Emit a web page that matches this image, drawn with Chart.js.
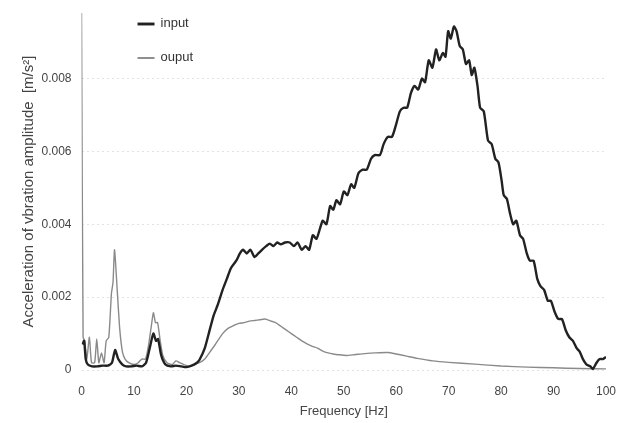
<!DOCTYPE html>
<html>
<head>
<meta charset="utf-8">
<script src="https://cdn.jsdelivr.net/npm/chart.js@4.4.1/dist/chart.umd.min.js"></script>
<style>
  html, body { margin: 0; padding: 0; background: #fff; }
  #wrap { width: 625px; height: 423px; position: relative; }
</style>
</head>
<body>
<div id="wrap"><canvas id="chart"></canvas></div>
<script>
// ── Data ───────────────────────────────────────────────────────────────────
const inputFreq = [0.2, 0.5, 0.8, 1.2, 2, 3, 4, 5, 5.8, 6.4, 7, 7.8, 8.5, 9.5, 10.5, 11.5, 12.3, 13, 13.7, 14.2,
  14.6, 15.2, 16, 17, 18, 19, 20, 21, 22, 22.5, 23.5, 24.4, 25.2, 26, 26.9, 27.7, 28.5, 29.5, 30.2, 30.8,
  31.5, 32.2, 33, 33.7, 34.4, 35.2, 35.9, 36.6, 37.3, 38, 38.8, 39.7, 40.5, 41.2, 42, 42.7, 43.4, 44.1, 44.8, 45.5,
  46, 46.7, 47.4, 48, 48.6, 49.3, 50, 50.7, 51.4, 52, 52.8, 53.6, 54.4, 55.2, 55.9, 56.9, 57.6, 58.4, 59.2, 59.9,
  60.7, 61.4, 62.1, 62.8, 63.5, 64.2, 64.9, 65.5, 66.2, 66.9, 67.6, 68.2, 68.9, 69.4, 69.9, 70.4, 71, 71.5, 72.1, 72.7,
  73.3, 73.9, 74.4, 74.9, 75.5, 76, 76.7, 77.5, 78.2, 78.9, 79.5, 80.1, 80.5, 81.1, 81.7, 82.3, 82.9, 83.6, 84.2, 84.9,
  85.5, 86.2, 86.9, 87.5, 88.2, 88.9, 89.5, 90.2, 90.9, 91.6, 92.3, 93, 93.7, 94.4, 95, 95.6, 96.3, 97, 97.5, 98.2,
  98.8, 99.4, 100];
const inputAccel = [0.0007, 0.0008, 0.0003, 0.00015, 0.0001, 0.0001, 0.00012, 0.00012, 0.0002, 0.00055, 0.0003, 0.00015, 0.0001, 0.0001, 0.00012, 0.0001, 0.0002, 0.0006, 0.001, 0.0008,
  0.00085, 0.0004, 0.00015, 0.0001, 0.00012, 0.0001, 0.00008, 0.00012, 0.0002, 0.00028, 0.0006, 0.00108, 0.0015, 0.0018, 0.0022, 0.0025, 0.0028, 0.003, 0.0032, 0.0033,
  0.0032, 0.0033, 0.0031, 0.0032, 0.0033, 0.0034, 0.00347, 0.0034, 0.0035, 0.00345, 0.0035, 0.0035, 0.0034, 0.0035, 0.0033, 0.0034, 0.0033, 0.0037, 0.0036, 0.0039,
  0.0041, 0.004, 0.0045, 0.0044, 0.00466, 0.00455, 0.0049, 0.0048, 0.0051, 0.005, 0.0054, 0.0055, 0.0055, 0.0058, 0.0059, 0.0059, 0.0062, 0.0064, 0.0064, 0.0067,
  0.0071, 0.0072, 0.0072, 0.0076, 0.0078, 0.0077, 0.008, 0.0079, 0.0085, 0.0083, 0.0088, 0.0085, 0.0087, 0.0086, 0.0093, 0.0091, 0.00943, 0.0093, 0.0089, 0.0088,
  0.0084, 0.0085, 0.0081, 0.0083, 0.0078, 0.0072, 0.0071, 0.0063, 0.0062, 0.0058, 0.0057, 0.0052, 0.0048, 0.0047, 0.0043, 0.004, 0.0041, 0.0037, 0.0036, 0.0032,
  0.003, 0.003, 0.0025, 0.0023, 0.0022, 0.0019, 0.0019, 0.0016, 0.0014, 0.0014, 0.0011, 0.0009, 0.0008, 0.0006, 0.0005, 0.0003, 0.00015, 0.0001, 0.00003, 0.0002,
  0.0003, 0.0003, 0.00036];

const outputFreq = [0, 0.3, 0.6, 1, 1.5, 1.9, 2.5, 2.9, 3.3, 3.8, 4.3, 4.7, 5.2, 5.7, 6, 6.3, 6.8, 7.3, 7.8, 8.3,
  9, 10, 10.8, 11.5, 12.2, 12.8, 13.3, 13.7, 14.1, 14.5, 15, 15.5, 16.3, 17.3, 18, 18.7, 19.5, 20.5, 21.5, 22.5,
  23.5, 24.5, 25.5, 26.9, 28, 29, 30, 31, 32, 33, 34, 35, 36, 37, 38, 39, 40, 41, 42, 43,
  44, 45, 46, 47, 48, 49, 50.5, 52, 54, 56, 58.4, 60, 62, 64, 67, 70, 75, 80, 85, 90, 95, 100];
const outputAccel = [0.0098, 0.0009, 0.0008, 0.0003, 0.0009, 0.0002, 0.0002, 0.00085, 0.0002, 0.00047, 0.0002, 0.0008, 0.0009, 0.0021, 0.0024, 0.0033, 0.0022, 0.0011, 0.0005, 0.0003,
  0.0002, 0.00015, 0.0002, 0.0003, 0.0003, 0.0007, 0.0012, 0.00157, 0.0013, 0.0013, 0.0008, 0.0004, 0.0002, 0.00015, 0.00025, 0.0002, 0.00015, 0.0001, 0.00015, 0.0002,
  0.0003, 0.0005, 0.0007, 0.001, 0.00115, 0.00122, 0.00128, 0.0013, 0.00134, 0.00136, 0.00138, 0.0014, 0.00135, 0.0013, 0.0012, 0.0011, 0.001, 0.0009, 0.0008, 0.00072,
  0.00065, 0.0006, 0.00052, 0.00047, 0.00044, 0.00042, 0.0004, 0.00042, 0.00045, 0.00047, 0.00048, 0.00044, 0.00038, 0.00032, 0.00025, 0.00021, 0.00016, 0.00011, 0.00008, 0.00006, 0.00004, 0.00003];

const xTicks = [0, 10, 20, 30, 40, 50, 60, 70, 80, 90, 100];
const yTicks = [0, 0.002, 0.004, 0.006, 0.008];

const FONT = 'Liberation Sans, Arial, sans-serif';
const toPoints = (xs, ys) => xs.map((x, i) => ({ x, y: ys[i] }));

// Legend drawn inside the plot, top-left (two short swatches, stacked)
const inlineLegend = {
  id: 'inlineLegend',
  afterDraw(chart) {
    const { ctx, chartArea } = chart;
    const x0 = chartArea.left + 56;
    const rows = [
      { label: 'input', ds: chart.data.datasets[0], y: 24 },
      { label: 'ouput', ds: chart.data.datasets[1], y: 58 },
    ];
    ctx.save();
    ctx.font = '13px ' + FONT;
    ctx.textBaseline = 'middle';
    rows.forEach(r => {
      ctx.strokeStyle = r.ds.borderColor;
      ctx.lineWidth = r.ds.borderWidth + 0.5;
      ctx.beginPath();
      ctx.moveTo(x0, r.y);
      ctx.lineTo(x0 + 17, r.y);
      ctx.stroke();
      ctx.fillStyle = '#333';
      ctx.fillText(r.label, x0 + 23, r.y - 1);
    });
    ctx.restore();
  }
};

new Chart(document.getElementById('chart'), {
  type: 'line',
  data: {
    datasets: [
      {
        label: 'input',
        data: toPoints(inputFreq, inputAccel),
        borderColor: '#222',
        borderWidth: 2.4,
        pointRadius: 0,
        tension: 0.2,
      },
      {
        label: 'ouput',
        data: toPoints(outputFreq, outputAccel),
        borderColor: '#8a8a8a',
        borderWidth: 1.4,
        pointRadius: 0,
        tension: 0.2,
      },
    ]
  },
  options: {
    responsive: true,
    maintainAspectRatio: false,
    animation: false,
    layout: { padding: { top: 13, right: 3, left: 20, bottom: 4 } },
    plugins: { legend: { display: false }, tooltip: { enabled: false } },
    scales: {
      x: {
        type: 'linear',
        min: 0,
        max: 100,
        afterBuildTicks: s => { s.ticks = xTicks.map(v => ({ value: v })); },
        afterFit: s => { s.paddingRight = 19; },
        grid: { display: false, drawTicks: false },
        border: { display: false },
        ticks: { color: '#444', font: { family: FONT, size: 12 }, padding: 14 },
        title: { display: true, text: 'Frequency [Hz]', color: '#444', font: { family: FONT, size: 13 }, padding: { top: -9, bottom: 0 } },
      },
      y: {
        min: 0,
        max: 0.0098,
        afterBuildTicks: s => { s.ticks = yTicks.map(v => ({ value: v })); },
        afterFit: s => { s.paddingTop = 0; },
        grid: { color: '#e2e2e2', drawTicks: false, lineWidth: 1 },
        border: { display: false, dash: [2, 3] },
        ticks: {
          color: '#444', font: { family: FONT, size: 12 }, padding: 10,
          callback: v => v === 0 ? '0' : v.toFixed(3),
        },
        title: { display: true, text: 'Acceleration of vbration amplitude  [m/s²]', color: '#444', font: { family: FONT, size: 15 }, padding: { top: 0, bottom: -6.5 } },
      }
    }
  },
  plugins: [inlineLegend]
});
</script>
</body>
</html>
